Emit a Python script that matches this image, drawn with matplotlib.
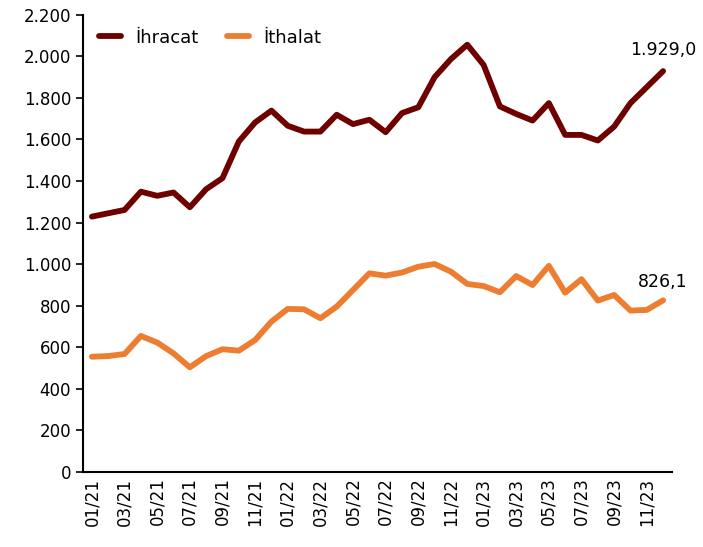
import matplotlib.pyplot as plt
from matplotlib.ticker import FuncFormatter

months = [f'{m:02d}/{y}' for y in (21, 22, 23) for m in range(1, 13)]

ihracat = [1229, 1245, 1261, 1349, 1329, 1345, 1274, 1361, 1414, 1590, 1682, 1739,
           1666, 1638, 1638, 1719, 1674, 1695, 1635, 1727, 1755, 1900, 1987, 2056,
           1959, 1759, 1723, 1691, 1775, 1622, 1622, 1595, 1662, 1775, 1852, 1929.0]
ithalat = [555, 558, 568, 655, 623, 571, 504, 558, 591, 584, 635, 724,
           785, 783, 740, 796, 876, 956, 945, 960, 988, 1001, 964, 905,
           895, 865, 943, 900, 992, 863, 928, 825, 852, 777, 780, 826.1]

fig = plt.figure(figsize=(7.03, 5.47), dpi=100)
ax = fig.add_axes([0.118, 0.137, 0.838, 0.836])

x = range(len(months))
ax.plot(x, ihracat, color='#6E0000', lw=4.2, label='İhracat', solid_capstyle='round')
ax.plot(x, ithalat, color='#ED7D31', lw=4.2, label='İthalat', solid_capstyle='round')

ax.set_xlim(-0.55, len(months) - 0.45)
ax.set_ylim(0, 2200)
ax.set_yticks(range(0, 2201, 200))
ax.yaxis.set_major_formatter(FuncFormatter(lambda v, p: f'{int(v):,}'.replace(',', '.')))
ax.set_xticks(list(x)[::2])
ax.set_xticklabels(months[::2], rotation=90)
ax.tick_params(axis='x', length=0, labelsize=12, pad=4)
ax.tick_params(axis='y', length=5, width=1.2, labelsize=12, direction='out')

for s in ('top', 'right'):
    ax.spines[s].set_visible(False)
for s in ('left', 'bottom'):
    ax.spines[s].set_linewidth(1.5)

ax.annotate('1.929,0', (35, ihracat[-1]), xytext=(0, 9), textcoords='offset points',
            ha='center', va='bottom', fontsize=12.5)
ax.annotate('826,1', (35, ithalat[-1]), xytext=(0, 7), textcoords='offset points',
            ha='center', va='bottom', fontsize=12.5)

ax.legend(loc='upper left', frameon=False, ncol=2, fontsize=13, handlelength=1.2,
          columnspacing=1.6, bbox_to_anchor=(0.0, 1.005))

fig.savefig('out.png', dpi=100)
